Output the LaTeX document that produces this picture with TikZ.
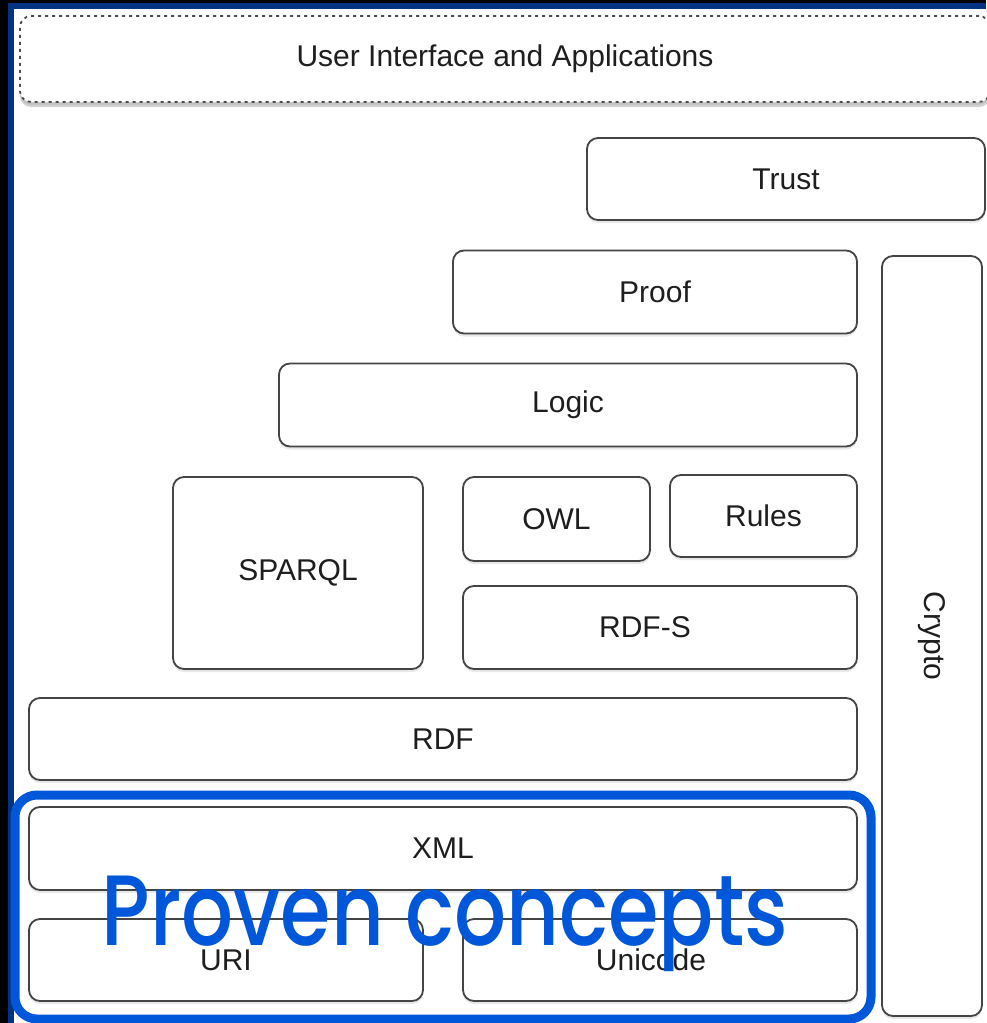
\documentclass[tikz,border=0pt]{standalone}
\usepackage{fontspec}
\setmainfont{Liberation Sans}
\newfontfamily\popfont{Poppins}[UprightFont={* Medium}]
\usetikzlibrary{shadows}
\definecolor{frameblue}{HTML}{023282}
\definecolor{proveblue}{HTML}{0057D9}
\definecolor{boxline}{HTML}{444444}
\definecolor{txtgray}{HTML}{1E1E1E}
\tikzset{
  layer/.style={draw=boxline, line width=1.8pt, rounded corners=11pt, fill=white,
    inner sep=0pt, font=\fontsize{30}{30}\selectfont, text=txtgray,
    drop shadow={opacity=0.18, shadow xshift=0pt, shadow yshift=-3pt}},
  uilayer/.style={layer, draw=black!70, dash pattern=on 3pt off 4pt,
    drop shadow={opacity=0.35, shadow xshift=0pt, shadow yshift=-5pt}},
  provenbox/.style={draw=proveblue, line width=9pt, rounded corners=22pt},
  proventext/.style={font=\popfont\fontsize{100}{100}\selectfont, text=proveblue, inner sep=0pt}
}
\begin{document}
\begin{tikzpicture}[x=1pt,y=-1pt]
\useasboundingbox (0,0) rectangle (986,1023);
\fill[black] (0,0) rectangle (986,1023);
\fill[frameblue] (8,3) rectangle (986,1023);
\fill[white] (14,9) rectangle (986,1023);
% layers
\node[uilayer, minimum width=970, minimum height=86] (ui) at (505,59) {User Interface and Applications};
\node[layer, minimum width=398, minimum height=82] (trust) at (786,179) {Trust};
\node[layer, minimum width=404, minimum height=83] (proof) at (655,292) {Proof};
\node[layer, rotate=-90, minimum width=760, minimum height=100,
      drop shadow={opacity=0.15, shadow xshift=0pt, shadow yshift=0pt}] (crypto) at (932,636) {Crypto};
\node[layer, minimum width=578, minimum height=83] (logic) at (568,405) {Logic};
\node[layer, minimum width=250, minimum height=192] (sparql) at (298,573) {SPARQL};
\node[layer, minimum width=187, minimum height=84] (owl) at (556.5,519) {OWL};
\node[layer, minimum width=187, minimum height=82] (rules) at (763.5,516) {Rules};
\node[layer, minimum width=394, minimum height=83] (rdfs) at (660,627.5) {RDF-S\hspace*{30pt}};
\node[layer, minimum width=828, minimum height=82] (rdf) at (443,739) {RDF};
\node[layer, minimum width=828, minimum height=83] (xml) at (443,848.5) {XML};
\node[layer, minimum width=394, minimum height=82] (uri) at (226,960) {URI};
\node[layer, minimum width=394, minimum height=82] (unicode) at (660,960) {Unicode\hspace*{18pt}};
% proven concepts highlight
\draw[provenbox] (15,795) rectangle (871,1019);
\node[proventext, anchor=base] (proven) at (445,945) {\scalebox{0.816}[1]{Proven concepts}};
\end{tikzpicture}
\end{document}
